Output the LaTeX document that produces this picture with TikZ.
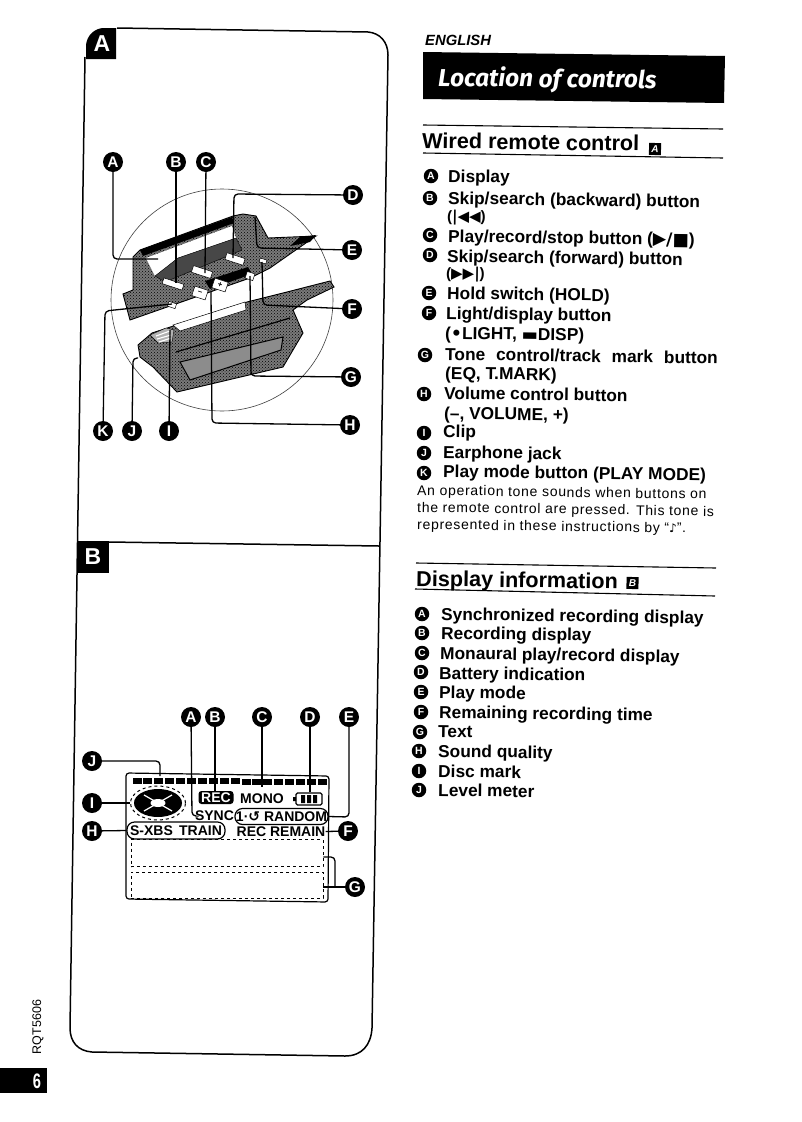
\documentclass[tikz,border=0pt]{standalone}
\usepackage{fontspec}
\setmainfont{Liberation Sans}
\newfontfamily\dejavu{DejaVu Sans}
\newfontfamily\fira{Fira Sans}
\newfontfamily\notefont[LetterSpace=5]{Liberation Sans}
\usetikzlibrary{shapes.geometric,patterns}
\newcommand{\sym}[1]{{\dejavu #1}}
\tikzset{
 x=1pt,y=-1pt,
 badge/.style={circle,fill=black,text=white,inner sep=0pt,minimum size=20pt,font=\bfseries\fontsize{15.5}{15.5}\selectfont},
 sbadge/.style={circle,fill=black,text=white,inner sep=0pt,minimum size=14.5pt,font=\bfseries\fontsize{10.5}{10.5}\selectfont},
 item/.style={anchor=base west,inner sep=0pt,rotate=-0.8,font=\bfseries\fontsize{17.3}{17.3}\selectfont},
 itemsym/.style={anchor=base west,inner sep=0pt,rotate=-0.8,font=\bfseries\fontsize{15}{15}\selectfont},
 note/.style={anchor=base west,inner sep=0pt,rotate=-0.8,font=\notefont\fontsize{14}{14}\selectfont},
 head/.style={anchor=base west,inner sep=0pt,rotate=-0.8,font=\bfseries\fontsize{21.6}{21.6}\selectfont},
 pane/.style={line width=1.5pt},
 rule/.style={line width=1.1pt},
 lead/.style={line width=1.3pt,rounded corners=4pt},
 lcd/.style={inner sep=0pt,font=\bfseries\fontsize{14}{14}\selectfont},
 seg/.style={fill=black,minimum width=9pt,minimum height=6pt,inner sep=0pt},
 body/.style={preaction={fill=black!52},pattern=crosshatch dots,pattern color=black,draw=black,line width=.9pt},
 keyw/.style={fill=white,draw=black,line width=.5pt,rotate=-18,inner sep=0pt,font=\bfseries\fontsize{8}{8}\selectfont},
 sq/.style={fill=black,text=white,inner sep=0pt,font=\bfseries\fontsize{23}{23}\selectfont},
 tiny/.style={fill=black,text=white,inner sep=0pt,minimum size=12pt,rotate=-0.8,font=\bfseries\itshape\fontsize{10}{10}\selectfont},
 dbox/.style={draw,dashed,line width=.7pt,minimum width=192pt,inner sep=0pt},
 capsule/.style={draw,line width=1.2pt,rounded corners=7.5pt,inner sep=0pt},
}
\begin{document}
\begin{tikzpicture}
\useasboundingbox (0,0) rectangle (802,1122);
\fill[white] (0,0) rectangle (802,1122);
% panel
\draw[pane] (117,28) -- (368,32) .. controls (380,33) and (388,42) .. (388,55) -- (372,1028) .. controls (371,1045) and (362,1056) .. (345,1056) -- (92,1052) .. controls (78,1051) and (70,1042) .. (70,1028) -- (85,57);
\draw[pane] (109,542) -- (379,546);
\path[fill=black] (86,59) -- (86,45) .. controls (87,35) and (95,28) .. (104,28) -- (116,28) -- (116,59) -- cycle;
\node[text=white,font=\bfseries\fontsize{23}{23}\selectfont,inner sep=0pt] (pA) at (102,44) {A};
\node[sq,minimum width=32pt,minimum height=32pt] (pB) at (93,557) {B};
% circle
\draw[line width=.6pt,black!75] (222,300) circle (111);
% upper half of the remote
\path[body] (133,257) -- (140,250) -- (233,216) -- (243,214) -- (256,216) -- (268,238) -- (316,236) -- (290,254) -- (270,268) -- (250,278) -- (130,320) -- (123,294) -- (133,290) -- cycle;
\path[fill=white] (146,258) -- (232,226) -- (236,238) -- (178,258) -- (155,276) -- cycle;
\path[fill=black] (140,250) -- (232,217) -- (234,223) -- (143,256) -- cycle;
\path[fill=black!72,draw=black] (178,258) -- (236,238) -- (242,250) -- (165,282) -- (155,276) -- cycle;
\path[fill=black] (205,281) -- (248,267) -- (252,274) -- (210,289) -- cycle;
\path[fill=black] (300,237) -- (316,235) -- (310,242) -- (290,246) -- cycle;
% lower half
\path[body] (138,345) -- (152,333) -- (247,302) -- (287,292) -- (330,281) -- (334,287) -- (307,300) -- (293,310) -- (303,333) -- (283,367) -- (177,392) -- (153,367) -- (140,357) -- cycle;
\path[fill=white,draw=black,line width=.5pt] (173,325) -- (245,302) -- (246,310) -- (180,331) -- cycle;
\path[fill=black!45,draw=black,line width=1pt] (180,362) -- (283,337) -- (281,350) -- (190,380) -- cycle;
\draw[line width=1.2pt] (176,352) -- (290,318);
\path[fill=black!30,draw=black] (150,335) -- (166,328) -- (174,330) -- (172,342) -- (158,343) -- cycle;
\draw[line width=1.1pt,white] (156,336) -- (170,331) (157,339) -- (171,335) (159,342) -- (171,338);
% keys
\node[keyw,minimum width=21pt,minimum height=6pt] (k1) at (173,284) {};
\node[keyw,minimum width=20pt,minimum height=7pt] (k2) at (202,272) {};
\node[keyw,minimum width=19pt,minimum height=7pt] (k3) at (235,259) {};
\node[keyw,minimum width=14pt,minimum height=10pt] (k4) at (200,293) {--};
\node[keyw,minimum width=14pt,minimum height=10pt] (k5) at (220,285) {+};
\node[keyw,minimum width=8pt,minimum height=7pt] (k6) at (250,276) {};
\node[keyw,minimum width=7pt,minimum height=4pt] (k7) at (263,261) {};
\node[keyw,minimum width=8pt,minimum height=5pt] (k8) at (172,305) {};
\coordinate (tA) at (158,259); \coordinate (tB) at (176,283); \coordinate (tC) at (205,273);
\coordinate (tD) at (233,258); \coordinate (tE) at (255,217); \coordinate (tF) at (262,262);
\coordinate (tG) at (250,276); \coordinate (tH) at (211,292); \coordinate (tK) at (172,304);
\coordinate (tJ) at (138,358); \coordinate (tI) at (170,330);
% badges, figure A
\node[badge] (a1) at (113,162) {A};
\node[badge] (a2) at (176,162) {B};
\node[badge] (a3) at (206,162) {C};
\node[badge] (a4) at (353,195) {D};
\node[badge] (a5) at (352,250) {E};
\node[badge] (a6) at (352,309) {F};
\node[badge] (a7) at (351,377) {G};
\node[badge] (a8) at (350,425) {H};
\node[badge] (a9) at (169,431) {I};
\node[badge] (a10) at (132,431) {J};
\node[badge] (a11) at (103,431) {K};
\draw[lead] (a1) -- (113,259) -- (tA);
\draw[lead] (a2) -- (tB);
\draw[lead] (a3) -- (tC);
\draw[lead] (a4) -- (234,194) -- (tD);
\draw[lead] (a5) -- (257,248) -- (tE);
\draw[lead] (a6) -- (263,305) -- (tF);
\draw[lead] (a7) -- (251,376) -- (tG);
\draw[lead] (a8) -- (212,423) -- (tH);
\draw[lead] (a9) -- (tI);
\draw[lead] (a10) -- (133,358) -- (tJ);
\draw[lead] (a11) -- (105,311) -- (tK);
% LCD
\draw[line width=1.2pt,rounded corners=3pt] (126,773) -- (329,776) -- (328,902) -- (126,899) -- cycle;
\foreach \i in {0,...,17}{
 \node[seg] (s\i) at ({137+\i*10.9},{780.5+\i*.1}) {};
}
\node[ellipse,draw,dashed,line width=1pt,inner sep=0pt,minimum width=55pt,minimum height=34pt] (ring) at (158,803) {};
\node[ellipse,fill=black,inner sep=0pt,minimum width=48pt,minimum height=28pt] (disc) at (158,803) {};
\draw[white,line width=1.2pt] (144,795) -- (172,811) (172,795) -- (144,811);
\node[ellipse,fill=white,inner sep=0pt,minimum width=15pt,minimum height=8pt] (hub) at (158,803) {};
\node[fill=black,text=white,lcd,rounded corners=3pt,minimum width=35pt,minimum height=13pt] (rec) at (216,797.5) {REC};
\node[lcd] (mono) at (262,799) {MONO};
\node[draw,line width=1.2pt,minimum width=26pt,minimum height=12pt,inner sep=0pt,rounded corners=1.5pt] (batt) at (309,799) {};
\fill (301,795) rectangle (305,803) (307,795) rectangle (311,803) (313,795) rectangle (317,803) (293,797) rectangle (296,801);
\node[lcd] (sync) at (214.5,816) {SYNC};
\node[capsule,lcd,minimum width=93pt,minimum height=16pt] (rnd) at (281.5,816.5) {1·\sym{↺} RANDOM};
\node[capsule,lcd,minimum width=98pt,minimum height=17pt] (sxbs) at (176,830.5) {S-XBS\, TRAIN};
\node[lcd] (remain) at (281,831.5) {REC REMAIN};
\node[dbox,minimum height=27pt] (t1) at (227,853) {};
\node[dbox,minimum height=26pt] (t2) at (227,885) {};
% badges, figure B
\node[badge] (b1) at (191,717) {A};
\node[badge] (b2) at (215,717) {B};
\node[badge] (b3) at (262,717) {C};
\node[badge] (b4) at (310,717) {D};
\node[badge] (b5) at (349,717) {E};
\node[badge] (b6) at (348,831) {F};
\node[badge] (b7) at (355,887) {G};
\node[badge] (b8) at (92,831) {H};
\node[badge] (b9) at (92,803) {I};
\node[badge] (b10) at (92,761) {J};
\draw[lead] (b1) -- (192,816) -- (sync.west);
\draw[lead] (b2) -- (rec.north -| b2);
\draw[lead] (b3) -- (262,787);
\draw[lead] (b4) -- (batt.north -| b4);
\draw[lead] (b5) -- (349,817) -- (rnd.east);
\draw[lead] (b6) -- (remain.east);
\draw[lead] (b7) -- (t2.east |- b7);
\draw[lead] (t1.east |- 0,857) -- (335,857) -- (335,887);
\draw[lead] (b8) -- (sxbs.west);
\draw[lead] (b9) -- (ring.west);
\draw[lead] (b10) -- (160,761) -- (160,776);
% margin
\node[rotate=90,inner sep=0pt,font=\fontsize{12.5}{12.5}\selectfont] (code) at (38,1027) {RQT5606};
\node[fill=black,minimum width=47pt,minimum height=25pt,inner sep=0pt] (tab) at (23.5,1080.5) {};
\node[text=white,inner sep=0pt,xscale=.7,font=\bfseries\fontsize{21}{21}\selectfont] (pg) at (37,1081) {6};
% right column
\node[anchor=base west,inner sep=0pt,font=\bfseries\itshape\fontsize{14.8}{14.8}\selectfont] (eng) at (425,45) {ENGLISH};
\path[fill=black] (423,52) -- (725,56) -- (724,103) -- (423,99) -- cycle;
\node[anchor=base west,inner sep=0pt,rotate=-0.6,text=white,font=\fira\bfseries\itshape\fontsize{24.5}{24.5}\selectfont] (loc) at (438,86) {Location of controls};
\draw[rule] (423,125) -- (723,129);
\node[head] (h1) at (422,148) {Wired remote control};
\node[tiny] (h1a) at (655,149) {A};
\draw[rule] (423,153) -- (723,158);
\node[sbadge] (i1) at (431,176) {A};
\node[item] (t1a) at (448,182) {Display};
\node[sbadge] (i2) at (430,198) {B};
\node[item] (t2a) at (448,204) {Skip/search (backward) button};
\node[itemsym] (t2b) at (447,221) {(\sym{|◀◀})};
\node[sbadge] (i3) at (430,235) {C};
\node[item] (t3a) at (448,242) {Play/record/stop button (\sym{▶/■})};
\node[sbadge] (i4) at (430,255) {D};
\node[item] (t4a) at (447,262) {Skip/search (forward) button};
\node[itemsym] (t4b) at (446,278) {(\sym{▶▶|})};
\node[sbadge] (i5) at (429,293) {E};
\node[item] (t5a) at (447,299) {Hold switch (HOLD)};
\node[sbadge] (i6) at (429,313) {F};
\node[item] (t6a) at (446,319) {Light/display button};
\node[item] (t6b) at (445,339) {(\sym{•}LIGHT, \sym{▬}DISP)};
\node[sbadge] (i7) at (425,355) {G};
\node[item] (t7a) at (445,360) {Tone\hspace{.35em} control/track\hspace{.35em} mark\hspace{.35em} button};
\node[item] (t7b) at (445,379) {(EQ, T.MARK)};
\node[sbadge] (i8) at (424,394) {H};
\node[item] (t8a) at (444,399) {Volume control button};
\node[item] (t8b) at (444,419) {(--, VOLUME, +)};
\node[sbadge] (i9) at (424,433) {I};
\node[item] (t9a) at (443,437) {Clip};
\node[sbadge] (i10) at (424,453) {J};
\node[item] (t10a) at (443,458) {Earphone jack};
\node[sbadge] (i11) at (424,473) {K};
\node[item] (t11a) at (443,477) {Play mode button (PLAY MODE)};
\node[note] (n1) at (417,495) {An operation tone sounds when buttons on};
\node[note] (n2) at (417,512) {the remote control are pressed. This tone is};
\node[note] (n3) at (417,529) {represented in these instructions by “{\dejavu\fontsize{12}{12}\selectfont ♪}”.};
\draw[rule] (416,563) -- (716,568);
\node[head] (h2) at (416,586) {Display information};
\node[tiny] (h2a) at (632.5,583) {B};
\draw[rule] (415,589) -- (715,596);
\node[sbadge] (j1) at (422,614) {A};
\node[item] (u1) at (441,620) {Synchronized recording display};
\node[sbadge] (j2) at (422,633) {B};
\node[item] (u2) at (441,639) {Recording display};
\node[sbadge] (j3) at (422,653) {C};
\node[item] (u3) at (440,659) {Monaural play/record display};
\node[sbadge] (j4) at (421,672) {D};
\node[item] (u4) at (439,679) {Battery indication};
\node[sbadge] (j5) at (421,692) {E};
\node[item] (u5) at (439,698) {Play mode};
\node[sbadge] (j6) at (421,712) {F};
\node[item] (u6) at (439,718) {Remaining recording time};
\node[sbadge] (j7) at (420,732) {G};
\node[item] (u7) at (438,737) {Text};
\node[sbadge] (j8) at (419,751) {H};
\node[item] (u8) at (438,757) {Sound quality};
\node[sbadge] (j9) at (419,771) {I};
\node[item] (u9) at (438,777) {Disc mark};
\node[sbadge] (j10) at (419,790) {J};
\node[item] (u10) at (438,796) {Level meter};
\end{tikzpicture}
\end{document}
